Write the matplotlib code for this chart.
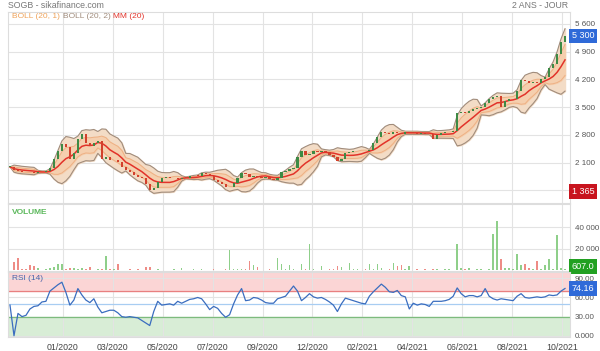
import numpy as np
import pandas as pd
import matplotlib
matplotlib.use("Agg")
import matplotlib.pyplot as plt

plt.rcParams["font.family"] = ["Liberation Sans", "DejaVu Sans"]

# cours de cloture (~1 point tous les 3-4 jours)
close = [1990, 1900, 1880, 1870, 1860, 1850, 1840, 1860, 1870, 1880,
         1950, 2200, 2400, 2580, 2500, 2200, 2350, 2700, 2830, 2600,
         2520, 2600, 2650, 2200, 2230, 2160, 2160, 2120, 1990, 1900,
         1850, 1790, 1740, 1700, 1560, 1400, 1450, 1620, 1720, 1730,
         1700, 1710, 1690, 1720, 1710, 1750, 1770, 1760, 1840, 1820,
         1760, 1650, 1600, 1560, 1470, 1480, 1580, 1700, 1840, 1800,
         1740, 1760, 1730, 1720, 1740, 1690, 1660, 1700, 1850, 1880,
         1940, 1960, 2250, 2400, 2300, 2320, 2380, 2370, 2380, 2360,
         2300, 2250, 2150, 2200, 2340, 2360, 2380, 2390, 2400, 2380,
         2420, 2600, 2750, 2880, 2850, 2830, 2870, 2850, 2820, 2860,
         2880, 2840, 2830, 2850, 2830, 2820, 2700, 2800, 2850, 2860,
         2870, 2900, 3350, 3370, 3360, 3400, 3450, 3480, 3500, 3600,
         3700, 3750, 3780, 3500, 3650, 3700, 3700, 3900, 4180, 4150,
         4120, 4130, 4110, 4200, 4250, 4500, 4600, 4850, 5150, 5300]

volume = [0, 7500, 11000, 800, 600, 5000, 3500, 1500, 500, 600,
          1500, 3000, 5500, 6000, 800, 2000, 1500, 700, 1500, 600,
          2500, 500, 600, 700, 13000, 800, 600, 6000, 500, 400,
          600, 500, 1200, 400, 2500, 3000, 500, 600, 400, 500,
          400, 1000, 400, 1500, 500, 400, 800, 500, 1000, 400,
          500, 600, 400, 500, 600, 19000, 1200, 800, 600, 700,
          8000, 5000, 2500, 500, 400, 600, 500, 11000, 5500, 600,
          5000, 1000, 500, 5500, 600, 24500, 1000, 500, 4000, 500,
          600, 1000, 4000, 3000, 500, 7000, 600, 800, 500, 900,
          5500, 600, 6000, 2000, 500, 600, 7000, 4000, 5000, 600,
          4000, 500, 600, 500, 1000, 500, 600, 800, 500, 1000,
          600, 500, 24500, 2000, 600, 1500, 500, 1000, 600, 500,
          800, 34000, 46000, 10000, 1500, 1500, 600, 15000, 5000, 6000,
          1500, 600, 8000, 600, 5000, 10000, 600, 32500, 1500, 607]

rsi = [48, 0, 35, 30, 32, 42, 46, 47, 53, 54,
       70, 75, 80, 84, 68, 48, 56, 74, 64, 56,
       52, 58, 45, 36, 38, 40, 40, 36, 30, 29,
       30, 29, 28, 24, 20, 16, 38, 54, 48, 49,
       50, 48, 54, 51, 54, 57, 58, 60, 58, 50,
       41, 46, 43, 35, 29, 33, 50, 64, 74, 55,
       56, 60, 59, 56, 52, 51, 51, 58, 60, 62,
       70, 78, 70, 55, 60, 66, 61, 59, 60, 57,
       53, 48, 38, 50, 59, 57, 55, 53, 51, 50,
       62, 69, 75, 81, 76, 69, 68, 71, 63, 61,
       42, 51, 48, 50, 49, 46, 54, 54, 54, 55,
       57, 62, 75, 66, 61, 63, 63, 61, 63, 74,
       62, 58, 56, 58, 57, 56, 55, 62, 66, 60,
       59, 60, 61, 60, 61, 64, 63, 64, 70, 74.16]

date_labels = ["01/2020", "03/2020", "05/2020", "07/2020", "09/2020", "12/2020",
               "02/2021", "04/2021", "06/2021", "08/2021", "10/2021"]

price_ticks = [1400, 2100, 2800, 3500, 4200, 4900, 5600]

s = pd.Series(close, dtype=float)
x = np.arange(len(close))
mm = s.rolling(7, min_periods=1).mean()
sd = s.rolling(7, min_periods=1).std(ddof=0)
up1, lo1 = mm + sd, mm - sd
up2, lo2 = mm + 2 * sd, mm - 2 * sd
opn = s.shift(1).fillna(s[0])
hausse = s >= opn

grid_c = "#e3e3e3"
lab_c = "#555555"
fs = 6.0
W, H = 600, 351


def axes_px(top, bottom):
    return [8 / W, 1 - bottom / H, 562 / W, (bottom - top) / H]


fig = plt.figure(figsize=(6, 3.51), dpi=100)
ax = fig.add_axes(axes_px(12, 203))
axv = fig.add_axes(axes_px(204, 271), sharex=ax)
axr = fig.add_axes(axes_px(272, 337), sharex=ax)

xt = [13.25 + 12.5 * k for k in range(len(date_labels))]

for a in (ax, axv, axr):
    a.set_xlim(-0.5, 140.25)
    a.set_xticks(xt)
    a.grid(True, color=grid_c, lw=0.8)
    a.set_axisbelow(True)
    a.yaxis.tick_right()
    a.tick_params(length=0, labelsize=5.8, labelcolor=lab_c, pad=3.5)
    for sp in a.spines.values():
        sp.set_color("#dddddd")
        sp.set_linewidth(0.8)

# --- panneau prix
ax.fill_between(x, lo2, up2, color="#f3dcc6", zorder=1)
ax.fill_between(x, lo1, up1, color="#f5cfae", zorder=1.5)
ax.plot(x, up2, color="#a08c7c", lw=0.8, zorder=2)
ax.plot(x, lo2, color="#a08c7c", lw=0.8, zorder=2)
ax.plot(x, up1, color="#eeb083", lw=0.7, zorder=2)
ax.plot(x, lo1, color="#eeb083", lw=0.7, zorder=2)
ax.plot(x, mm, color="#e2332a", lw=1.1, zorder=3)
body_lo = np.minimum(opn, s)
body_h = np.maximum(np.abs(s - opn), 12)
ax.bar(x, body_h, bottom=body_lo, width=0.55,
       color=np.where(hausse, "#3d8a45", "#d2402c"), zorder=4)
ax.set_ylim(1077, 5903)
ax.set_yticks(price_ticks)
ax.set_yticklabels([f"{v:,}".replace(",", " ") for v in price_ticks])
ax.tick_params(labelbottom=False)

box = dict(boxstyle="square,pad=0.3", ec="none")
ax.text(1.003, close[-1], "5 300", transform=ax.get_yaxis_transform(), va="center",
        ha="left", fontsize=6.5, color="white", bbox=dict(box, fc="#2f6ad8"), zorder=10)
ax.text(1.003, min(close) - 35, "1 365", transform=ax.get_yaxis_transform(), va="center",
        ha="left", fontsize=6.5, color="white", bbox=dict(box, fc="#c8141e"), zorder=10)

fig.text(12 / W, 1 - 17 / H, "BOLL (20, 1)", fontsize=fs, color="#efa35a", va="center")
fig.text(63 / W, 1 - 17 / H, "BOLL (20, 2)", fontsize=fs, color="#a08c7c", va="center")
fig.text(113 / W, 1 - 17 / H, "MM (20)", fontsize=fs, color="#e2332a", va="center")

fig.text(8 / W, 1 - 6 / H, "SOGB - sikafinance.com", fontsize=6.3, color="#777777",
         va="center", ha="left")
fig.text(568 / W, 1 - 6 / H, "2 ANS - JOUR", fontsize=6.3, color="#777777",
         va="center", ha="right")

# --- volume
axv.bar(x, volume, width=0.4, color=np.where(hausse, "#8fcf8a", "#ee8c86"), zorder=3)
axv.set_ylim(-900, 61700)
axv.set_yticks([20000, 40000])
axv.set_yticklabels(["20 000", "40 000"])
axv.tick_params(labelbottom=False)
fig.text(12 / W, 1 - 212 / H, "VOLUME", fontsize=fs, color="#5cb85c", va="center",
         fontweight="bold")
axv.text(1.003, 3200, "607.0", transform=axv.get_yaxis_transform(), va="center",
         ha="left", fontsize=6.5, color="white", bbox=dict(box, fc="#22a022"), zorder=10)

# --- RSI
axr.axhspan(70, 100, color="#fbd5d5", zorder=0)
axr.axhspan(-2, 30, color="#d8edd6", zorder=0)
axr.axhline(70, color="#e88080", lw=0.9)
axr.axhline(50, color="#a8cdf2", lw=0.9)
axr.axhline(30, color="#7dbb7d", lw=0.9)
axr.plot(x, rsi, color="#3a6dbf", lw=0.9, zorder=3)
axr.set_ylim(-2, 100)
axr.set_yticks([0, 30, 60, 90])
axr.set_yticklabels(["0.000", "30.00", "60.00", "90.00"])
axr.set_xticklabels(date_labels)
axr.tick_params(axis="x", labelsize=6.3, labelcolor="#444444", pad=4)
fig.text(12 / W, 1 - 278 / H, "RSI (14)", fontsize=fs, color="#4a62a8", va="center")
axr.text(1.003, rsi[-1], "74.16", transform=axr.get_yaxis_transform(), va="center",
         ha="left", fontsize=6.5, color="white", bbox=dict(box, fc="#2f6ad8"), zorder=10)

fig.savefig("out.png", dpi=100)
